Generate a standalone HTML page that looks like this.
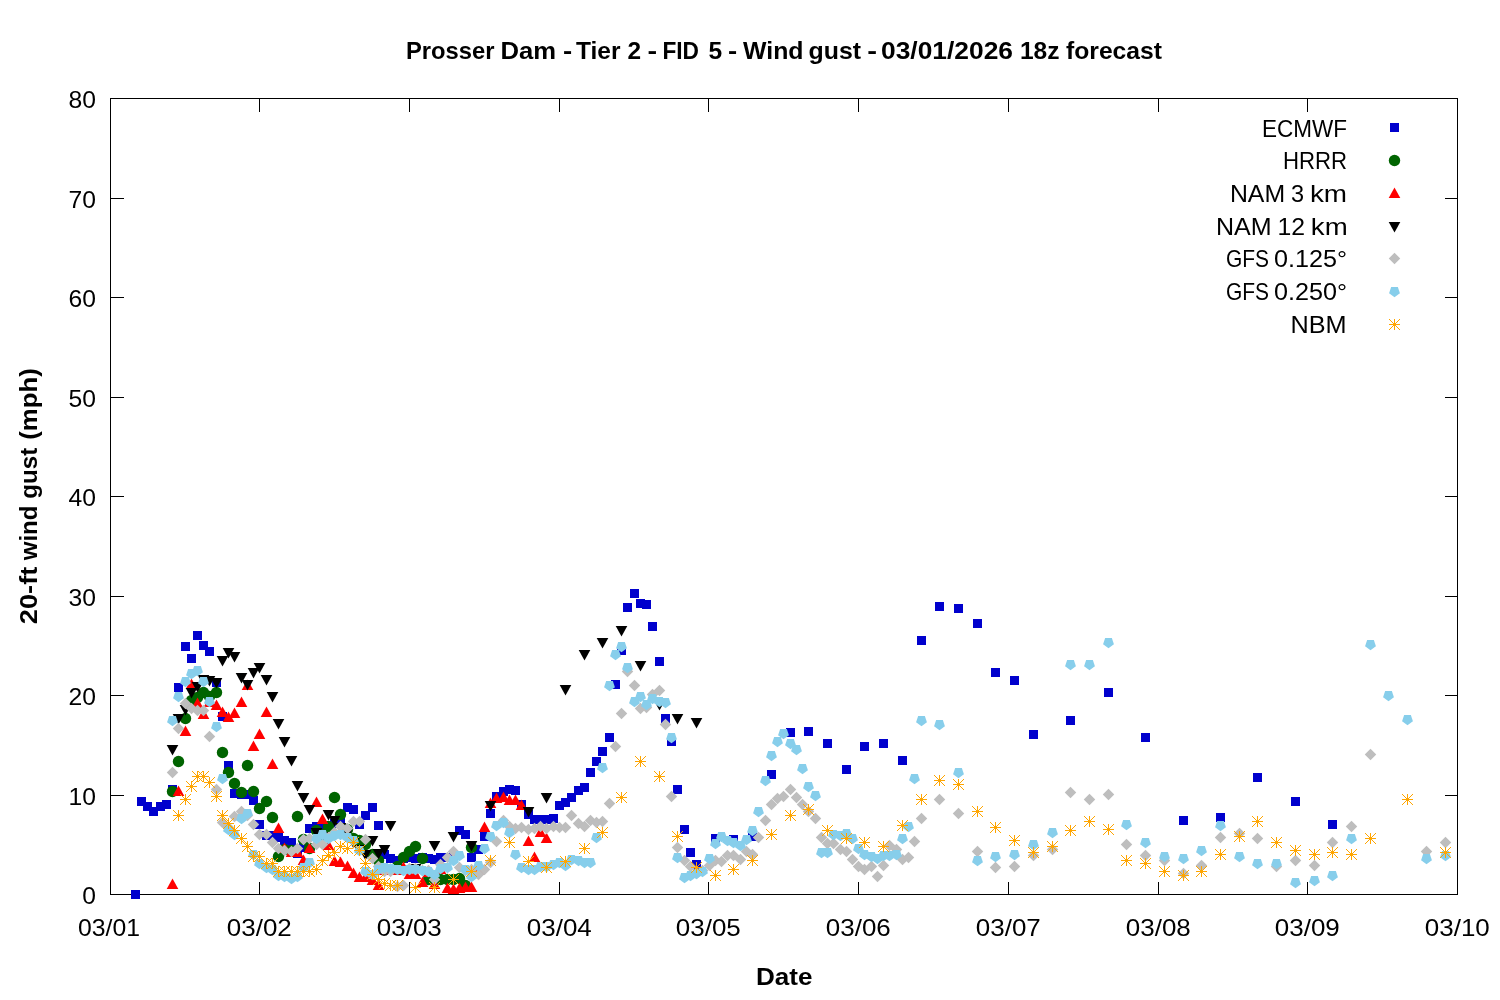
<!DOCTYPE html>
<html lang="en"><head><meta charset="utf-8"><title>Prosser Dam - Wind gust forecast</title>
<style>html,body{margin:0;padding:0;background:#fff}svg{display:block}text{font-family:"Liberation Sans",sans-serif;fill:#000}</style></head><body>
<svg width="1500" height="1000" viewBox="0 0 1500 1000">
<rect x="0" y="0" width="1500" height="1000" fill="#fff"/>
<g stroke="#000" stroke-width="1" fill="none" shape-rendering="crispEdges">
<rect x="110.5" y="98.5" width="1347.0" height="796.0"/>
<path d="M110.5 795.5h13M1457.5 795.5h-13"/>
<path d="M110.5 695.5h13M1457.5 695.5h-13"/>
<path d="M110.5 596.5h13M1457.5 596.5h-13"/>
<path d="M110.5 496.5h13M1457.5 496.5h-13"/>
<path d="M110.5 397.5h13M1457.5 397.5h-13"/>
<path d="M110.5 297.5h13M1457.5 297.5h-13"/>
<path d="M110.5 198.5h13M1457.5 198.5h-13"/>
<path d="M259.5 894.5v-13M259.5 98.5v13"/>
<path d="M409.5 894.5v-13M409.5 98.5v13"/>
<path d="M559.5 894.5v-13M559.5 98.5v13"/>
<path d="M708.5 894.5v-13M708.5 98.5v13"/>
<path d="M858.5 894.5v-13M858.5 98.5v13"/>
<path d="M1008.5 894.5v-13M1008.5 98.5v13"/>
<path d="M1158.5 894.5v-13M1158.5 98.5v13"/>
<path d="M1307.5 894.5v-13M1307.5 98.5v13"/>
</g>
<g font-size="24px">
<text x="96.1" y="903.9" text-anchor="end" textLength="13.73" lengthAdjust="spacingAndGlyphs">0</text>
<text x="96.1" y="804.9" text-anchor="end" textLength="27.46" lengthAdjust="spacingAndGlyphs">10</text>
<text x="96.1" y="704.9" text-anchor="end" textLength="27.46" lengthAdjust="spacingAndGlyphs">20</text>
<text x="96.1" y="605.9" text-anchor="end" textLength="27.46" lengthAdjust="spacingAndGlyphs">30</text>
<text x="96.1" y="505.9" text-anchor="end" textLength="27.46" lengthAdjust="spacingAndGlyphs">40</text>
<text x="96.1" y="406.9" text-anchor="end" textLength="27.46" lengthAdjust="spacingAndGlyphs">50</text>
<text x="96.1" y="306.9" text-anchor="end" textLength="27.46" lengthAdjust="spacingAndGlyphs">60</text>
<text x="96.1" y="207.9" text-anchor="end" textLength="27.46" lengthAdjust="spacingAndGlyphs">70</text>
<text x="96.1" y="107.9" text-anchor="end" textLength="27.46" lengthAdjust="spacingAndGlyphs">80</text>
<text x="78" y="936.2" textLength="62" lengthAdjust="spacingAndGlyphs">03/01</text>
<text x="259.3" y="936.2" text-anchor="middle" textLength="65" lengthAdjust="spacingAndGlyphs">03/02</text>
<text x="409.3" y="936.2" text-anchor="middle" textLength="65" lengthAdjust="spacingAndGlyphs">03/03</text>
<text x="559.3" y="936.2" text-anchor="middle" textLength="65" lengthAdjust="spacingAndGlyphs">03/04</text>
<text x="708.3" y="936.2" text-anchor="middle" textLength="65" lengthAdjust="spacingAndGlyphs">03/05</text>
<text x="858.3" y="936.2" text-anchor="middle" textLength="65" lengthAdjust="spacingAndGlyphs">03/06</text>
<text x="1008.3" y="936.2" text-anchor="middle" textLength="65" lengthAdjust="spacingAndGlyphs">03/07</text>
<text x="1158.3" y="936.2" text-anchor="middle" textLength="65" lengthAdjust="spacingAndGlyphs">03/08</text>
<text x="1307.3" y="936.2" text-anchor="middle" textLength="65" lengthAdjust="spacingAndGlyphs">03/09</text>
<text x="1457.3" y="936.2" text-anchor="middle" textLength="65" lengthAdjust="spacingAndGlyphs">03/10</text>
</g>
<text y="58.6" font-size="24px" font-weight="bold"><tspan x="406.01" textLength="88.49" lengthAdjust="spacingAndGlyphs">Prosser</tspan> <tspan x="500.47" textLength="55.58" lengthAdjust="spacingAndGlyphs">Dam</tspan> <tspan x="562.9" textLength="9.19" lengthAdjust="spacingAndGlyphs">-</tspan> <tspan x="576.01" textLength="44.49" lengthAdjust="spacingAndGlyphs">Tier</tspan> <tspan x="627.46" textLength="13.59" lengthAdjust="spacingAndGlyphs">2</tspan> <tspan x="647.42" textLength="9.63" lengthAdjust="spacingAndGlyphs">-</tspan> <tspan x="662.46" textLength="36.56" lengthAdjust="spacingAndGlyphs">FID</tspan> <tspan x="708.42" textLength="13.7" lengthAdjust="spacingAndGlyphs">5</tspan> <tspan x="727.91" textLength="9.19" lengthAdjust="spacingAndGlyphs">-</tspan> <tspan x="743" textLength="60.48" lengthAdjust="spacingAndGlyphs">Wind</tspan> <tspan x="808.5" textLength="52.52" lengthAdjust="spacingAndGlyphs">gust</tspan> <tspan x="867.29" textLength="9.8" lengthAdjust="spacingAndGlyphs">-</tspan> <tspan x="880.99" textLength="132.02" lengthAdjust="spacingAndGlyphs">03/01/2026</tspan> <tspan x="1019.94" textLength="39.58" lengthAdjust="spacingAndGlyphs">18z</tspan> <tspan x="1066" textLength="96" lengthAdjust="spacingAndGlyphs">forecast</tspan></text>
<text x="784.2" y="985" font-size="24px" font-weight="bold" text-anchor="middle" textLength="56.5" lengthAdjust="spacingAndGlyphs">Date</text>
<text transform="translate(36.8 623.2) rotate(-90)" font-size="24px" font-weight="bold"><tspan x="-0.96" textLength="57.47" lengthAdjust="spacingAndGlyphs">20-ft</tspan> <tspan x="62.99" textLength="54.51" lengthAdjust="spacingAndGlyphs">wind</tspan> <tspan x="124.51" textLength="51" lengthAdjust="spacingAndGlyphs">gust</tspan> <tspan x="183.49" textLength="71.54" lengthAdjust="spacingAndGlyphs">(mph)</tspan></text>
<g font-size="24px">
<text y="136.6"><tspan x="1261.98" textLength="85.01" lengthAdjust="spacingAndGlyphs">ECMWF</tspan></text>
<text y="169.3"><tspan x="1282.97" textLength="64.09" lengthAdjust="spacingAndGlyphs">HRRR</tspan></text>
<text y="202"><tspan x="1229.9" textLength="55.2" lengthAdjust="spacingAndGlyphs">NAM</tspan> <tspan x="1290.97" textLength="13.08" lengthAdjust="spacingAndGlyphs">3</tspan> <tspan x="1309.93" textLength="37.17" lengthAdjust="spacingAndGlyphs">km</tspan></text>
<text y="234.7"><tspan x="1215.92" textLength="55.66" lengthAdjust="spacingAndGlyphs">NAM</tspan> <tspan x="1277.43" textLength="27.6" lengthAdjust="spacingAndGlyphs">12</tspan> <tspan x="1310.86" textLength="36.83" lengthAdjust="spacingAndGlyphs">km</tspan></text>
<text y="267.4"><tspan x="1225.96" textLength="43.08" lengthAdjust="spacingAndGlyphs">GFS</tspan> <tspan x="1273.98" textLength="73.05" lengthAdjust="spacingAndGlyphs">0.125°</tspan></text>
<text y="300.1"><tspan x="1225.96" textLength="43.08" lengthAdjust="spacingAndGlyphs">GFS</tspan> <tspan x="1273.98" textLength="73.05" lengthAdjust="spacingAndGlyphs">0.250°</tspan></text>
<text y="332.8"><tspan x="1290.42" textLength="56.15" lengthAdjust="spacingAndGlyphs">NBM</tspan></text>
</g>
<g fill="#0000cd"><rect x="1390" y="123" width="9" height="9"/></g>
<g fill="#006400"><circle cx="1394.5" cy="160.5" r="5.7"/></g>
<g fill="#ff0000"><path d="M1388.7 198L1394.5 187.5L1400.3 198z"/></g>
<g fill="#000000"><path d="M1388.7 222L1394.5 232.5L1400.3 222z"/></g>
<g fill="#bebebe"><path d="M1388.75 258.5L1394.5 264.25L1400.25 258.5L1394.5 252.75z"/></g>
<g fill="#87ceeb"><path d="M1397.85 286.89L1391.15 286.89L1389.08 293.26L1394.5 297.2L1399.92 293.26z"/></g>
<g fill="none" stroke="#ffa500" stroke-width="1"><path d="M1389 324.5H1400M1394.5 319V330M1389 319L1400 330M1389 330L1400 319"/></g>
<g fill="#0000cd">
<rect x="131" y="890" width="9" height="9"/>
<rect x="137" y="797" width="9" height="9"/>
<rect x="143" y="802" width="9" height="9"/>
<rect x="149" y="807" width="9" height="9"/>
<rect x="156" y="802" width="9" height="9"/>
<rect x="162" y="800" width="9" height="9"/>
<rect x="168" y="785" width="9" height="9"/>
<rect x="174" y="683" width="9" height="9"/>
<rect x="181" y="642" width="9" height="9"/>
<rect x="187" y="654" width="9" height="9"/>
<rect x="193" y="631" width="9" height="9"/>
<rect x="199" y="641" width="9" height="9"/>
<rect x="205" y="647" width="9" height="9"/>
<rect x="212" y="678" width="9" height="9"/>
<rect x="218" y="712" width="9" height="9"/>
<rect x="224" y="761" width="9" height="9"/>
<rect x="230" y="789" width="9" height="9"/>
<rect x="237" y="790" width="9" height="9"/>
<rect x="243" y="790" width="9" height="9"/>
<rect x="249" y="796" width="9" height="9"/>
<rect x="255" y="820" width="9" height="9"/>
<rect x="262" y="831" width="9" height="9"/>
<rect x="268" y="831" width="9" height="9"/>
<rect x="274" y="833" width="9" height="9"/>
<rect x="280" y="836" width="9" height="9"/>
<rect x="287" y="838" width="9" height="9"/>
<rect x="293" y="849" width="9" height="9"/>
<rect x="299" y="843" width="9" height="9"/>
<rect x="305" y="824" width="9" height="9"/>
<rect x="312" y="822" width="9" height="9"/>
<rect x="318" y="824" width="9" height="9"/>
<rect x="324" y="822" width="9" height="9"/>
<rect x="330" y="819" width="9" height="9"/>
<rect x="336" y="816" width="9" height="9"/>
<rect x="343" y="803" width="9" height="9"/>
<rect x="349" y="805" width="9" height="9"/>
<rect x="355" y="820" width="9" height="9"/>
<rect x="361" y="811" width="9" height="9"/>
<rect x="368" y="803" width="9" height="9"/>
<rect x="374" y="821" width="9" height="9"/>
<rect x="380" y="850" width="9" height="9"/>
<rect x="386" y="854" width="9" height="9"/>
<rect x="393" y="856" width="9" height="9"/>
<rect x="399" y="854" width="9" height="9"/>
<rect x="405" y="853" width="9" height="9"/>
<rect x="411" y="854" width="9" height="9"/>
<rect x="418" y="853" width="9" height="9"/>
<rect x="424" y="854" width="9" height="9"/>
<rect x="430" y="855" width="9" height="9"/>
<rect x="436" y="853" width="9" height="9"/>
<rect x="443" y="853" width="9" height="9"/>
<rect x="449" y="853" width="9" height="9"/>
<rect x="455" y="826" width="9" height="9"/>
<rect x="461" y="830" width="9" height="9"/>
<rect x="467" y="853" width="9" height="9"/>
<rect x="474" y="845" width="9" height="9"/>
<rect x="480" y="832" width="9" height="9"/>
<rect x="486" y="809" width="9" height="9"/>
<rect x="492" y="792" width="9" height="9"/>
<rect x="499" y="787" width="9" height="9"/>
<rect x="505" y="785" width="9" height="9"/>
<rect x="511" y="786" width="9" height="9"/>
<rect x="517" y="800" width="9" height="9"/>
<rect x="524" y="810" width="9" height="9"/>
<rect x="530" y="815" width="9" height="9"/>
<rect x="536" y="815" width="9" height="9"/>
<rect x="542" y="815" width="9" height="9"/>
<rect x="549" y="814" width="9" height="9"/>
<rect x="555" y="801" width="9" height="9"/>
<rect x="561" y="798" width="9" height="9"/>
<rect x="567" y="793" width="9" height="9"/>
<rect x="574" y="786" width="9" height="9"/>
<rect x="580" y="783" width="9" height="9"/>
<rect x="586" y="768" width="9" height="9"/>
<rect x="592" y="757" width="9" height="9"/>
<rect x="598" y="747" width="9" height="9"/>
<rect x="605" y="733" width="9" height="9"/>
<rect x="611" y="680" width="9" height="9"/>
<rect x="617" y="646" width="9" height="9"/>
<rect x="623" y="603" width="9" height="9"/>
<rect x="630" y="589" width="9" height="9"/>
<rect x="636" y="599" width="9" height="9"/>
<rect x="642" y="600" width="9" height="9"/>
<rect x="648" y="622" width="9" height="9"/>
<rect x="655" y="657" width="9" height="9"/>
<rect x="661" y="714" width="9" height="9"/>
<rect x="667" y="737" width="9" height="9"/>
<rect x="673" y="785" width="9" height="9"/>
<rect x="680" y="825" width="9" height="9"/>
<rect x="686" y="848" width="9" height="9"/>
<rect x="692" y="860" width="9" height="9"/>
<rect x="711" y="834" width="9" height="9"/>
<rect x="729" y="835" width="9" height="9"/>
<rect x="748" y="832" width="9" height="9"/>
<rect x="767" y="770" width="9" height="9"/>
<rect x="786" y="728" width="9" height="9"/>
<rect x="804" y="727" width="9" height="9"/>
<rect x="823" y="739" width="9" height="9"/>
<rect x="842" y="765" width="9" height="9"/>
<rect x="860" y="742" width="9" height="9"/>
<rect x="879" y="739" width="9" height="9"/>
<rect x="898" y="756" width="9" height="9"/>
<rect x="917" y="636" width="9" height="9"/>
<rect x="935" y="602" width="9" height="9"/>
<rect x="954" y="604" width="9" height="9"/>
<rect x="973" y="619" width="9" height="9"/>
<rect x="991" y="668" width="9" height="9"/>
<rect x="1010" y="676" width="9" height="9"/>
<rect x="1029" y="730" width="9" height="9"/>
<rect x="1066" y="716" width="9" height="9"/>
<rect x="1104" y="688" width="9" height="9"/>
<rect x="1141" y="733" width="9" height="9"/>
<rect x="1179" y="816" width="9" height="9"/>
<rect x="1216" y="813" width="9" height="9"/>
<rect x="1253" y="773" width="9" height="9"/>
<rect x="1291" y="797" width="9" height="9"/>
<rect x="1328" y="820" width="9" height="9"/>
</g>
<g fill="#006400">
<circle cx="172.5" cy="791.5" r="5.7"/>
<circle cx="178.5" cy="761.5" r="5.7"/>
<circle cx="185.5" cy="718.5" r="5.7"/>
<circle cx="191.5" cy="700.5" r="5.7"/>
<circle cx="197.5" cy="697.5" r="5.7"/>
<circle cx="203.5" cy="692.5" r="5.7"/>
<circle cx="209.5" cy="696.5" r="5.7"/>
<circle cx="216.5" cy="692.5" r="5.7"/>
<circle cx="222.5" cy="752.5" r="5.7"/>
<circle cx="228.5" cy="772.5" r="5.7"/>
<circle cx="234.5" cy="783.5" r="5.7"/>
<circle cx="241.5" cy="792.5" r="5.7"/>
<circle cx="247.5" cy="765.5" r="5.7"/>
<circle cx="253.5" cy="791.5" r="5.7"/>
<circle cx="259.5" cy="808.5" r="5.7"/>
<circle cx="266.5" cy="801.5" r="5.7"/>
<circle cx="272.5" cy="817.5" r="5.7"/>
<circle cx="278.5" cy="856.5" r="5.7"/>
<circle cx="284.5" cy="849.5" r="5.7"/>
<circle cx="291.5" cy="850.5" r="5.7"/>
<circle cx="297.5" cy="816.5" r="5.7"/>
<circle cx="303.5" cy="839.5" r="5.7"/>
<circle cx="309.5" cy="848.5" r="5.7"/>
<circle cx="316.5" cy="830.5" r="5.7"/>
<circle cx="322.5" cy="834.5" r="5.7"/>
<circle cx="328.5" cy="826.5" r="5.7"/>
<circle cx="334.5" cy="797.5" r="5.7"/>
<circle cx="340.5" cy="814.5" r="5.7"/>
<circle cx="347.5" cy="829.5" r="5.7"/>
<circle cx="353.5" cy="838.5" r="5.7"/>
<circle cx="359.5" cy="840.5" r="5.7"/>
<circle cx="365.5" cy="844.5" r="5.7"/>
<circle cx="372.5" cy="854.5" r="5.7"/>
<circle cx="378.5" cy="860.5" r="5.7"/>
<circle cx="384.5" cy="869.5" r="5.7"/>
<circle cx="390.5" cy="869.5" r="5.7"/>
<circle cx="397.5" cy="866.5" r="5.7"/>
<circle cx="403.5" cy="857.5" r="5.7"/>
<circle cx="409.5" cy="851.5" r="5.7"/>
<circle cx="415.5" cy="846.5" r="5.7"/>
<circle cx="422.5" cy="858.5" r="5.7"/>
<circle cx="428.5" cy="879.5" r="5.7"/>
<circle cx="434.5" cy="879.5" r="5.7"/>
<circle cx="440.5" cy="879.5" r="5.7"/>
<circle cx="447.5" cy="879.5" r="5.7"/>
<circle cx="453.5" cy="879.5" r="5.7"/>
<circle cx="459.5" cy="878.5" r="5.7"/>
<circle cx="465.5" cy="885.5" r="5.7"/>
<circle cx="471.5" cy="847.5" r="5.7"/>
</g>
<g fill="#ff0000">
<path d="M166.7 889L172.5 878.5L178.3 889z"/>
<path d="M172.7 796L178.5 785.5L184.3 796z"/>
<path d="M179.7 736L185.5 725.5L191.3 736z"/>
<path d="M185.7 689L191.5 678.5L197.3 689z"/>
<path d="M191.7 708L197.5 697.5L203.3 708z"/>
<path d="M197.7 719L203.5 708.5L209.3 719z"/>
<path d="M203.7 707L209.5 696.5L215.3 707z"/>
<path d="M210.7 710L216.5 699.5L222.3 710z"/>
<path d="M216.7 717L222.5 706.5L228.3 717z"/>
<path d="M222.7 722L228.5 711.5L234.3 722z"/>
<path d="M228.7 718L234.5 707.5L240.3 718z"/>
<path d="M235.7 707L241.5 696.5L247.3 707z"/>
<path d="M241.7 690L247.5 679.5L253.3 690z"/>
<path d="M247.7 751L253.5 740.5L259.3 751z"/>
<path d="M253.7 739L259.5 728.5L265.3 739z"/>
<path d="M260.7 717L266.5 706.5L272.3 717z"/>
<path d="M266.7 769L272.5 758.5L278.3 769z"/>
<path d="M272.7 833L278.5 822.5L284.3 833z"/>
<path d="M278.7 853L284.5 842.5L290.3 853z"/>
<path d="M285.7 857L291.5 846.5L297.3 857z"/>
<path d="M291.7 857L297.5 846.5L303.3 857z"/>
<path d="M297.7 865L303.5 854.5L309.3 865z"/>
<path d="M303.7 853L309.5 842.5L315.3 853z"/>
<path d="M310.7 807L316.5 796.5L322.3 807z"/>
<path d="M316.7 824L322.5 813.5L328.3 824z"/>
<path d="M322.7 850L328.5 839.5L334.3 850z"/>
<path d="M328.7 866L334.5 855.5L340.3 866z"/>
<path d="M334.7 867L340.5 856.5L346.3 867z"/>
<path d="M341.7 871L347.5 860.5L353.3 871z"/>
<path d="M347.7 878L353.5 867.5L359.3 878z"/>
<path d="M353.7 882L359.5 871.5L365.3 882z"/>
<path d="M359.7 882L365.5 871.5L371.3 882z"/>
<path d="M366.7 885L372.5 874.5L378.3 885z"/>
<path d="M372.7 890L378.5 879.5L384.3 890z"/>
<path d="M378.7 875L384.5 864.5L390.3 875z"/>
<path d="M384.7 875L390.5 864.5L396.3 875z"/>
<path d="M391.7 875L397.5 864.5L403.3 875z"/>
<path d="M397.7 872L403.5 861.5L409.3 872z"/>
<path d="M403.7 879L409.5 868.5L415.3 879z"/>
<path d="M409.7 879L415.5 868.5L421.3 879z"/>
<path d="M416.7 887L422.5 876.5L428.3 887z"/>
<path d="M422.7 877L428.5 866.5L434.3 877z"/>
<path d="M428.7 889L434.5 878.5L440.3 889z"/>
<path d="M434.7 874L440.5 863.5L446.3 874z"/>
<path d="M441.7 893L447.5 882.5L453.3 893z"/>
<path d="M447.7 894L453.5 883.5L459.3 894z"/>
<path d="M453.7 893L459.5 882.5L465.3 893z"/>
<path d="M459.7 892L465.5 881.5L471.3 892z"/>
<path d="M465.7 892L471.5 881.5L477.3 892z"/>
<path d="M472.7 875L478.5 864.5L484.3 875z"/>
<path d="M478.7 832L484.5 821.5L490.3 832z"/>
<path d="M484.7 808L490.5 797.5L496.3 808z"/>
<path d="M490.7 803L496.5 792.5L502.3 803z"/>
<path d="M497.7 802L503.5 791.5L509.3 802z"/>
<path d="M503.7 805L509.5 794.5L515.3 805z"/>
<path d="M509.7 805L515.5 794.5L521.3 805z"/>
<path d="M515.7 810L521.5 799.5L527.3 810z"/>
<path d="M522.7 846L528.5 835.5L534.3 846z"/>
<path d="M528.7 862L534.5 851.5L540.3 862z"/>
<path d="M534.7 837L540.5 826.5L546.3 837z"/>
<path d="M540.7 843L546.5 832.5L552.3 843z"/>
</g>
<g fill="#000000">
<path d="M166.7 745L172.5 755.5L178.3 745z"/>
<path d="M172.7 714L178.5 724.5L184.3 714z"/>
<path d="M179.7 705L185.5 715.5L191.3 705z"/>
<path d="M185.7 688L191.5 698.5L197.3 688z"/>
<path d="M191.7 682L197.5 692.5L203.3 682z"/>
<path d="M197.7 675L203.5 685.5L209.3 675z"/>
<path d="M203.7 676L209.5 686.5L215.3 676z"/>
<path d="M210.7 678L216.5 688.5L222.3 678z"/>
<path d="M216.7 656L222.5 666.5L228.3 656z"/>
<path d="M222.7 648L228.5 658.5L234.3 648z"/>
<path d="M228.7 652L234.5 662.5L240.3 652z"/>
<path d="M235.7 673L241.5 683.5L247.3 673z"/>
<path d="M241.7 680L247.5 690.5L253.3 680z"/>
<path d="M247.7 668L253.5 678.5L259.3 668z"/>
<path d="M253.7 663L259.5 673.5L265.3 663z"/>
<path d="M260.7 675L266.5 685.5L272.3 675z"/>
<path d="M266.7 692L272.5 702.5L278.3 692z"/>
<path d="M272.7 719L278.5 729.5L284.3 719z"/>
<path d="M278.7 737L284.5 747.5L290.3 737z"/>
<path d="M285.7 756L291.5 766.5L297.3 756z"/>
<path d="M291.7 781L297.5 791.5L303.3 781z"/>
<path d="M297.7 793L303.5 803.5L309.3 793z"/>
<path d="M303.7 805L309.5 815.5L315.3 805z"/>
<path d="M310.7 828L316.5 838.5L322.3 828z"/>
<path d="M316.7 832L322.5 842.5L328.3 832z"/>
<path d="M322.7 810L328.5 820.5L334.3 810z"/>
<path d="M328.7 816L334.5 826.5L340.3 816z"/>
<path d="M334.7 823L340.5 833.5L346.3 823z"/>
<path d="M341.7 828L347.5 838.5L353.3 828z"/>
<path d="M347.7 838L353.5 848.5L359.3 838z"/>
<path d="M353.7 845L359.5 855.5L365.3 845z"/>
<path d="M359.7 850L365.5 860.5L371.3 850z"/>
<path d="M366.7 836L372.5 846.5L378.3 836z"/>
<path d="M372.7 849L378.5 859.5L384.3 849z"/>
<path d="M378.7 845L384.5 855.5L390.3 845z"/>
<path d="M384.7 821L390.5 831.5L396.3 821z"/>
<path d="M409.7 864L415.5 874.5L421.3 864z"/>
<path d="M428.7 841L434.5 851.5L440.3 841z"/>
<path d="M447.7 832L453.5 842.5L459.3 832z"/>
<path d="M465.7 841L471.5 851.5L477.3 841z"/>
<path d="M484.7 801L490.5 811.5L496.3 801z"/>
<path d="M522.7 807L528.5 817.5L534.3 807z"/>
<path d="M540.7 793L546.5 803.5L552.3 793z"/>
<path d="M559.7 685L565.5 695.5L571.3 685z"/>
<path d="M578.7 650L584.5 660.5L590.3 650z"/>
<path d="M596.7 638L602.5 648.5L608.3 638z"/>
<path d="M615.7 626L621.5 636.5L627.3 626z"/>
<path d="M634.7 661L640.5 671.5L646.3 661z"/>
<path d="M653.7 700L659.5 710.5L665.3 700z"/>
<path d="M671.7 714L677.5 724.5L683.3 714z"/>
<path d="M690.7 718L696.5 728.5L702.3 718z"/>
</g>
<g fill="#bebebe">
<path d="M166.75 772.5L172.5 778.25L178.25 772.5L172.5 766.75z"/>
<path d="M172.75 728.5L178.5 734.25L184.25 728.5L178.5 722.75z"/>
<path d="M179.75 703.5L185.5 709.25L191.25 703.5L185.5 697.75z"/>
<path d="M185.75 708.5L191.5 714.25L197.25 708.5L191.5 702.75z"/>
<path d="M191.75 710.5L197.5 716.25L203.25 710.5L197.5 704.75z"/>
<path d="M197.75 710.5L203.5 716.25L209.25 710.5L203.5 704.75z"/>
<path d="M203.75 736.5L209.5 742.25L215.25 736.5L209.5 730.75z"/>
<path d="M210.75 789.5L216.5 795.25L222.25 789.5L216.5 783.75z"/>
<path d="M216.75 822.5L222.5 828.25L228.25 822.5L222.5 816.75z"/>
<path d="M222.75 827.5L228.5 833.25L234.25 827.5L228.5 821.75z"/>
<path d="M228.75 816.5L234.5 822.25L240.25 816.5L234.5 810.75z"/>
<path d="M235.75 811.5L241.5 817.25L247.25 811.5L241.5 805.75z"/>
<path d="M241.75 815.5L247.5 821.25L253.25 815.5L247.5 809.75z"/>
<path d="M247.75 824.5L253.5 830.25L259.25 824.5L253.5 818.75z"/>
<path d="M253.75 834.5L259.5 840.25L265.25 834.5L259.5 828.75z"/>
<path d="M260.75 834.5L266.5 840.25L272.25 834.5L266.5 828.75z"/>
<path d="M266.75 842.5L272.5 848.25L278.25 842.5L272.5 836.75z"/>
<path d="M272.75 848.5L278.5 854.25L284.25 848.5L278.5 842.75z"/>
<path d="M278.75 850.5L284.5 856.25L290.25 850.5L284.5 844.75z"/>
<path d="M285.75 851.5L291.5 857.25L297.25 851.5L291.5 845.75z"/>
<path d="M291.75 848.5L297.5 854.25L303.25 848.5L297.5 842.75z"/>
<path d="M297.75 839.5L303.5 845.25L309.25 839.5L303.5 833.75z"/>
<path d="M303.75 838.5L309.5 844.25L315.25 838.5L309.5 832.75z"/>
<path d="M310.75 844.5L316.5 850.25L322.25 844.5L316.5 838.75z"/>
<path d="M316.75 844.5L322.5 850.25L328.25 844.5L322.5 838.75z"/>
<path d="M322.75 837.5L328.5 843.25L334.25 837.5L328.5 831.75z"/>
<path d="M328.75 832.5L334.5 838.25L340.25 832.5L334.5 826.75z"/>
<path d="M334.75 826.5L340.5 832.25L346.25 826.5L340.5 820.75z"/>
<path d="M341.75 828.5L347.5 834.25L353.25 828.5L347.5 822.75z"/>
<path d="M347.75 821.5L353.5 827.25L359.25 821.5L353.5 815.75z"/>
<path d="M353.75 821.5L359.5 827.25L365.25 821.5L359.5 815.75z"/>
<path d="M359.75 839.5L365.5 845.25L371.25 839.5L365.5 833.75z"/>
<path d="M366.75 858.5L372.5 864.25L378.25 858.5L372.5 852.75z"/>
<path d="M372.75 866.5L378.5 872.25L384.25 866.5L378.5 860.75z"/>
<path d="M378.75 871.5L384.5 877.25L390.25 871.5L384.5 865.75z"/>
<path d="M384.75 871.5L390.5 877.25L396.25 871.5L390.5 865.75z"/>
<path d="M391.75 886.5L397.5 892.25L403.25 886.5L397.5 880.75z"/>
<path d="M397.75 885.5L403.5 891.25L409.25 885.5L403.5 879.75z"/>
<path d="M403.75 868.5L409.5 874.25L415.25 868.5L409.5 862.75z"/>
<path d="M409.75 868.5L415.5 874.25L421.25 868.5L415.5 862.75z"/>
<path d="M416.75 870.5L422.5 876.25L428.25 870.5L422.5 864.75z"/>
<path d="M422.75 870.5L428.5 876.25L434.25 870.5L428.5 864.75z"/>
<path d="M428.75 879.5L434.5 885.25L440.25 879.5L434.5 873.75z"/>
<path d="M434.75 864.5L440.5 870.25L446.25 864.5L440.5 858.75z"/>
<path d="M441.75 857.5L447.5 863.25L453.25 857.5L447.5 851.75z"/>
<path d="M447.75 851.5L453.5 857.25L459.25 851.5L453.5 845.75z"/>
<path d="M453.75 867.5L459.5 873.25L465.25 867.5L459.5 861.75z"/>
<path d="M459.75 870.5L465.5 876.25L471.25 870.5L465.5 864.75z"/>
<path d="M465.75 869.5L471.5 875.25L477.25 869.5L471.5 863.75z"/>
<path d="M472.75 874.5L478.5 880.25L484.25 874.5L478.5 868.75z"/>
<path d="M478.75 869.5L484.5 875.25L490.25 869.5L484.5 863.75z"/>
<path d="M484.75 862.5L490.5 868.25L496.25 862.5L490.5 856.75z"/>
<path d="M490.75 841.5L496.5 847.25L502.25 841.5L496.5 835.75z"/>
<path d="M497.75 820.5L503.5 826.25L509.25 820.5L503.5 814.75z"/>
<path d="M503.75 826.5L509.5 832.25L515.25 826.5L509.5 820.75z"/>
<path d="M509.75 828.5L515.5 834.25L521.25 828.5L515.5 822.75z"/>
<path d="M515.75 827.5L521.5 833.25L527.25 827.5L521.5 821.75z"/>
<path d="M522.75 829.5L528.5 835.25L534.25 829.5L528.5 823.75z"/>
<path d="M528.75 828.5L534.5 834.25L540.25 828.5L534.5 822.75z"/>
<path d="M534.75 826.5L540.5 832.25L546.25 826.5L540.5 820.75z"/>
<path d="M540.75 828.5L546.5 834.25L552.25 828.5L546.5 822.75z"/>
<path d="M547.75 826.5L553.5 832.25L559.25 826.5L553.5 820.75z"/>
<path d="M553.75 827.5L559.5 833.25L565.25 827.5L559.5 821.75z"/>
<path d="M559.75 827.5L565.5 833.25L571.25 827.5L565.5 821.75z"/>
<path d="M565.75 815.5L571.5 821.25L577.25 815.5L571.5 809.75z"/>
<path d="M572.75 823.5L578.5 829.25L584.25 823.5L578.5 817.75z"/>
<path d="M578.75 826.5L584.5 832.25L590.25 826.5L584.5 820.75z"/>
<path d="M584.75 820.5L590.5 826.25L596.25 820.5L590.5 814.75z"/>
<path d="M590.75 822.5L596.5 828.25L602.25 822.5L596.5 816.75z"/>
<path d="M596.75 821.5L602.5 827.25L608.25 821.5L602.5 815.75z"/>
<path d="M603.75 803.5L609.5 809.25L615.25 803.5L609.5 797.75z"/>
<path d="M609.75 746.5L615.5 752.25L621.25 746.5L615.5 740.75z"/>
<path d="M615.75 713.5L621.5 719.25L627.25 713.5L621.5 707.75z"/>
<path d="M621.75 671.5L627.5 677.25L633.25 671.5L627.5 665.75z"/>
<path d="M628.75 685.5L634.5 691.25L640.25 685.5L634.5 679.75z"/>
<path d="M634.75 708.5L640.5 714.25L646.25 708.5L640.5 702.75z"/>
<path d="M640.75 707.5L646.5 713.25L652.25 707.5L646.5 701.75z"/>
<path d="M646.75 694.5L652.5 700.25L658.25 694.5L652.5 688.75z"/>
<path d="M653.75 690.5L659.5 696.25L665.25 690.5L659.5 684.75z"/>
<path d="M659.75 724.5L665.5 730.25L671.25 724.5L665.5 718.75z"/>
<path d="M665.75 796.5L671.5 802.25L677.25 796.5L671.5 790.75z"/>
<path d="M671.75 847.5L677.5 853.25L683.25 847.5L677.5 841.75z"/>
<path d="M678.75 860.5L684.5 866.25L690.25 860.5L684.5 854.75z"/>
<path d="M684.75 866.5L690.5 872.25L696.25 866.5L690.5 860.75z"/>
<path d="M690.75 873.5L696.5 879.25L702.25 873.5L696.5 867.75z"/>
<path d="M696.75 870.5L702.5 876.25L708.25 870.5L702.5 864.75z"/>
<path d="M703.75 865.5L709.5 871.25L715.25 865.5L709.5 859.75z"/>
<path d="M709.75 860.5L715.5 866.25L721.25 860.5L715.5 854.75z"/>
<path d="M715.75 861.5L721.5 867.25L727.25 861.5L721.5 855.75z"/>
<path d="M721.75 855.5L727.5 861.25L733.25 855.5L727.5 849.75z"/>
<path d="M727.75 855.5L733.5 861.25L739.25 855.5L733.5 849.75z"/>
<path d="M734.75 859.5L740.5 865.25L746.25 859.5L740.5 853.75z"/>
<path d="M740.75 851.5L746.5 857.25L752.25 851.5L746.5 845.75z"/>
<path d="M746.75 854.5L752.5 860.25L758.25 854.5L752.5 848.75z"/>
<path d="M752.75 837.5L758.5 843.25L764.25 837.5L758.5 831.75z"/>
<path d="M759.75 820.5L765.5 826.25L771.25 820.5L765.5 814.75z"/>
<path d="M765.75 804.5L771.5 810.25L777.25 804.5L771.5 798.75z"/>
<path d="M771.75 798.5L777.5 804.25L783.25 798.5L777.5 792.75z"/>
<path d="M777.75 796.5L783.5 802.25L789.25 796.5L783.5 790.75z"/>
<path d="M784.75 789.5L790.5 795.25L796.25 789.5L790.5 783.75z"/>
<path d="M790.75 797.5L796.5 803.25L802.25 797.5L796.5 791.75z"/>
<path d="M796.75 804.5L802.5 810.25L808.25 804.5L802.5 798.75z"/>
<path d="M802.75 811.5L808.5 817.25L814.25 811.5L808.5 805.75z"/>
<path d="M809.75 818.5L815.5 824.25L821.25 818.5L815.5 812.75z"/>
<path d="M815.75 837.5L821.5 843.25L827.25 837.5L821.5 831.75z"/>
<path d="M821.75 843.5L827.5 849.25L833.25 843.5L827.5 837.75z"/>
<path d="M827.75 843.5L833.5 849.25L839.25 843.5L833.5 837.75z"/>
<path d="M834.75 849.5L840.5 855.25L846.25 849.5L840.5 843.75z"/>
<path d="M840.75 851.5L846.5 857.25L852.25 851.5L846.5 845.75z"/>
<path d="M846.75 859.5L852.5 865.25L858.25 859.5L852.5 853.75z"/>
<path d="M852.75 866.5L858.5 872.25L864.25 866.5L858.5 860.75z"/>
<path d="M858.75 869.5L864.5 875.25L870.25 869.5L864.5 863.75z"/>
<path d="M865.75 866.5L871.5 872.25L877.25 866.5L871.5 860.75z"/>
<path d="M871.75 876.5L877.5 882.25L883.25 876.5L877.5 870.75z"/>
<path d="M877.75 865.5L883.5 871.25L889.25 865.5L883.5 859.75z"/>
<path d="M883.75 845.5L889.5 851.25L895.25 845.5L889.5 839.75z"/>
<path d="M890.75 849.5L896.5 855.25L902.25 849.5L896.5 843.75z"/>
<path d="M896.75 859.5L902.5 865.25L908.25 859.5L902.5 853.75z"/>
<path d="M902.75 857.5L908.5 863.25L914.25 857.5L908.5 851.75z"/>
<path d="M908.75 841.5L914.5 847.25L920.25 841.5L914.5 835.75z"/>
<path d="M915.75 818.5L921.5 824.25L927.25 818.5L921.5 812.75z"/>
<path d="M933.75 799.5L939.5 805.25L945.25 799.5L939.5 793.75z"/>
<path d="M952.75 813.5L958.5 819.25L964.25 813.5L958.5 807.75z"/>
<path d="M971.75 851.5L977.5 857.25L983.25 851.5L977.5 845.75z"/>
<path d="M989.75 867.5L995.5 873.25L1001.25 867.5L995.5 861.75z"/>
<path d="M1008.75 866.5L1014.5 872.25L1020.25 866.5L1014.5 860.75z"/>
<path d="M1027.75 855.5L1033.5 861.25L1039.25 855.5L1033.5 849.75z"/>
<path d="M1046.75 849.5L1052.5 855.25L1058.25 849.5L1052.5 843.75z"/>
<path d="M1064.75 792.5L1070.5 798.25L1076.25 792.5L1070.5 786.75z"/>
<path d="M1083.75 799.5L1089.5 805.25L1095.25 799.5L1089.5 793.75z"/>
<path d="M1102.75 794.5L1108.5 800.25L1114.25 794.5L1108.5 788.75z"/>
<path d="M1120.75 844.5L1126.5 850.25L1132.25 844.5L1126.5 838.75z"/>
<path d="M1139.75 855.5L1145.5 861.25L1151.25 855.5L1145.5 849.75z"/>
<path d="M1158.75 860.5L1164.5 866.25L1170.25 860.5L1164.5 854.75z"/>
<path d="M1177.75 873.5L1183.5 879.25L1189.25 873.5L1183.5 867.75z"/>
<path d="M1195.75 865.5L1201.5 871.25L1207.25 865.5L1201.5 859.75z"/>
<path d="M1214.75 837.5L1220.5 843.25L1226.25 837.5L1220.5 831.75z"/>
<path d="M1233.75 833.5L1239.5 839.25L1245.25 833.5L1239.5 827.75z"/>
<path d="M1251.75 838.5L1257.5 844.25L1263.25 838.5L1257.5 832.75z"/>
<path d="M1270.75 866.5L1276.5 872.25L1282.25 866.5L1276.5 860.75z"/>
<path d="M1289.75 860.5L1295.5 866.25L1301.25 860.5L1295.5 854.75z"/>
<path d="M1308.75 865.5L1314.5 871.25L1320.25 865.5L1314.5 859.75z"/>
<path d="M1326.75 842.5L1332.5 848.25L1338.25 842.5L1332.5 836.75z"/>
<path d="M1345.75 826.5L1351.5 832.25L1357.25 826.5L1351.5 820.75z"/>
<path d="M1364.75 754.5L1370.5 760.25L1376.25 754.5L1370.5 748.75z"/>
<path d="M1420.75 851.5L1426.5 857.25L1432.25 851.5L1426.5 845.75z"/>
<path d="M1439.75 842.5L1445.5 848.25L1451.25 842.5L1445.5 836.75z"/>
</g>
<g fill="#87ceeb">
<path d="M175.85 715.89L169.15 715.89L167.08 722.26L172.5 726.2L177.92 722.26z"/>
<path d="M181.85 691.89L175.15 691.89L173.08 698.26L178.5 702.2L183.92 698.26z"/>
<path d="M188.85 676.89L182.15 676.89L180.08 683.26L185.5 687.2L190.92 683.26z"/>
<path d="M194.85 668.89L188.15 668.89L186.08 675.26L191.5 679.2L196.92 675.26z"/>
<path d="M200.85 665.89L194.15 665.89L192.08 672.26L197.5 676.2L202.92 672.26z"/>
<path d="M206.85 676.89L200.15 676.89L198.08 683.26L203.5 687.2L208.92 683.26z"/>
<path d="M212.85 696.89L206.15 696.89L204.08 703.26L209.5 707.2L214.92 703.26z"/>
<path d="M219.85 721.89L213.15 721.89L211.08 728.26L216.5 732.2L221.92 728.26z"/>
<path d="M225.85 773.89L219.15 773.89L217.08 780.26L222.5 784.2L227.92 780.26z"/>
<path d="M231.85 824.89L225.15 824.89L223.08 831.26L228.5 835.2L233.92 831.26z"/>
<path d="M237.85 829.89L231.15 829.89L229.08 836.26L234.5 840.2L239.92 836.26z"/>
<path d="M244.85 813.89L238.15 813.89L236.08 820.26L241.5 824.2L246.92 820.26z"/>
<path d="M250.85 808.89L244.15 808.89L242.08 815.26L247.5 819.2L252.92 815.26z"/>
<path d="M256.85 849.89L250.15 849.89L248.08 856.26L253.5 860.2L258.92 856.26z"/>
<path d="M262.85 858.89L256.15 858.89L254.08 865.26L259.5 869.2L264.92 865.26z"/>
<path d="M269.85 862.89L263.15 862.89L261.08 869.26L266.5 873.2L271.92 869.26z"/>
<path d="M275.85 864.89L269.15 864.89L267.08 871.26L272.5 875.2L277.92 871.26z"/>
<path d="M281.85 870.89L275.15 870.89L273.08 877.26L278.5 881.2L283.92 877.26z"/>
<path d="M287.85 871.89L281.15 871.89L279.08 878.26L284.5 882.2L289.92 878.26z"/>
<path d="M294.85 873.89L288.15 873.89L286.08 880.26L291.5 884.2L296.92 880.26z"/>
<path d="M300.85 871.89L294.15 871.89L292.08 878.26L297.5 882.2L302.92 878.26z"/>
<path d="M306.85 862.89L300.15 862.89L298.08 869.26L303.5 873.2L308.92 869.26z"/>
<path d="M312.85 857.89L306.15 857.89L304.08 864.26L309.5 868.2L314.92 864.26z"/>
<path d="M319.85 833.89L313.15 833.89L311.08 840.26L316.5 844.2L321.92 840.26z"/>
<path d="M325.85 829.89L319.15 829.89L317.08 836.26L322.5 840.2L327.92 836.26z"/>
<path d="M331.85 833.89L325.15 833.89L323.08 840.26L328.5 844.2L333.92 840.26z"/>
<path d="M337.85 830.89L331.15 830.89L329.08 837.26L334.5 841.2L339.92 837.26z"/>
<path d="M343.85 829.89L337.15 829.89L335.08 836.26L340.5 840.2L345.92 836.26z"/>
<path d="M350.85 832.89L344.15 832.89L342.08 839.26L347.5 843.2L352.92 839.26z"/>
<path d="M356.85 835.89L350.15 835.89L348.08 842.26L353.5 846.2L358.92 842.26z"/>
<path d="M362.85 845.89L356.15 845.89L354.08 852.26L359.5 856.2L364.92 852.26z"/>
<path d="M368.85 866.89L362.15 866.89L360.08 873.26L365.5 877.2L370.92 873.26z"/>
<path d="M375.85 869.89L369.15 869.89L367.08 876.26L372.5 880.2L377.92 876.26z"/>
<path d="M381.85 864.89L375.15 864.89L373.08 871.26L378.5 875.2L383.92 871.26z"/>
<path d="M387.85 862.89L381.15 862.89L379.08 869.26L384.5 873.2L389.92 869.26z"/>
<path d="M393.85 863.89L387.15 863.89L385.08 870.26L390.5 874.2L395.92 870.26z"/>
<path d="M400.85 864.89L394.15 864.89L392.08 871.26L397.5 875.2L402.92 871.26z"/>
<path d="M406.85 865.89L400.15 865.89L398.08 872.26L403.5 876.2L408.92 872.26z"/>
<path d="M412.85 864.89L406.15 864.89L404.08 871.26L409.5 875.2L414.92 871.26z"/>
<path d="M418.85 864.89L412.15 864.89L410.08 871.26L415.5 875.2L420.92 871.26z"/>
<path d="M425.85 865.89L419.15 865.89L417.08 872.26L422.5 876.2L427.92 872.26z"/>
<path d="M431.85 866.89L425.15 866.89L423.08 873.26L428.5 877.2L433.92 873.26z"/>
<path d="M437.85 869.89L431.15 869.89L429.08 876.26L434.5 880.2L439.92 876.26z"/>
<path d="M443.85 863.89L437.15 863.89L435.08 870.26L440.5 874.2L445.92 870.26z"/>
<path d="M450.85 862.89L444.15 862.89L442.08 869.26L447.5 873.2L452.92 869.26z"/>
<path d="M456.85 855.89L450.15 855.89L448.08 862.26L453.5 866.2L458.92 862.26z"/>
<path d="M462.85 850.89L456.15 850.89L454.08 857.26L459.5 861.2L464.92 857.26z"/>
<path d="M468.85 864.89L462.15 864.89L460.08 871.26L465.5 875.2L470.92 871.26z"/>
<path d="M474.85 871.89L468.15 871.89L466.08 878.26L471.5 882.2L476.92 878.26z"/>
<path d="M481.85 860.89L475.15 860.89L473.08 867.26L478.5 871.2L483.92 867.26z"/>
<path d="M487.85 843.89L481.15 843.89L479.08 850.26L484.5 854.2L489.92 850.26z"/>
<path d="M493.85 831.89L487.15 831.89L485.08 838.26L490.5 842.2L495.92 838.26z"/>
<path d="M499.85 820.89L493.15 820.89L491.08 827.26L496.5 831.2L501.92 827.26z"/>
<path d="M506.85 817.89L500.15 817.89L498.08 824.26L503.5 828.2L508.92 824.26z"/>
<path d="M512.85 827.89L506.15 827.89L504.08 834.26L509.5 838.2L514.92 834.26z"/>
<path d="M518.85 849.89L512.15 849.89L510.08 856.26L515.5 860.2L520.92 856.26z"/>
<path d="M524.85 862.89L518.15 862.89L516.08 869.26L521.5 873.2L526.92 869.26z"/>
<path d="M531.85 864.89L525.15 864.89L523.08 871.26L528.5 875.2L533.92 871.26z"/>
<path d="M537.85 864.89L531.15 864.89L529.08 871.26L534.5 875.2L539.92 871.26z"/>
<path d="M543.85 861.89L537.15 861.89L535.08 868.26L540.5 872.2L545.92 868.26z"/>
<path d="M549.85 861.89L543.15 861.89L541.08 868.26L546.5 872.2L551.92 868.26z"/>
<path d="M556.85 859.89L550.15 859.89L548.08 866.26L553.5 870.2L558.92 866.26z"/>
<path d="M562.85 857.89L556.15 857.89L554.08 864.26L559.5 868.2L564.92 864.26z"/>
<path d="M568.85 860.89L562.15 860.89L560.08 867.26L565.5 871.2L570.92 867.26z"/>
<path d="M574.85 854.89L568.15 854.89L566.08 861.26L571.5 865.2L576.92 861.26z"/>
<path d="M581.85 855.89L575.15 855.89L573.08 862.26L578.5 866.2L583.92 862.26z"/>
<path d="M587.85 857.89L581.15 857.89L579.08 864.26L584.5 868.2L589.92 864.26z"/>
<path d="M593.85 857.89L587.15 857.89L585.08 864.26L590.5 868.2L595.92 864.26z"/>
<path d="M599.85 832.89L593.15 832.89L591.08 839.26L596.5 843.2L601.92 839.26z"/>
<path d="M605.85 762.89L599.15 762.89L597.08 769.26L602.5 773.2L607.92 769.26z"/>
<path d="M612.85 680.89L606.15 680.89L604.08 687.26L609.5 691.2L614.92 687.26z"/>
<path d="M618.85 649.89L612.15 649.89L610.08 656.26L615.5 660.2L620.92 656.26z"/>
<path d="M624.85 641.89L618.15 641.89L616.08 648.26L621.5 652.2L626.92 648.26z"/>
<path d="M630.85 662.89L624.15 662.89L622.08 669.26L627.5 673.2L632.92 669.26z"/>
<path d="M637.85 696.89L631.15 696.89L629.08 703.26L634.5 707.2L639.92 703.26z"/>
<path d="M643.85 691.89L637.15 691.89L635.08 698.26L640.5 702.2L645.92 698.26z"/>
<path d="M649.85 699.89L643.15 699.89L641.08 706.26L646.5 710.2L651.92 706.26z"/>
<path d="M655.85 693.89L649.15 693.89L647.08 700.26L652.5 704.2L657.92 700.26z"/>
<path d="M662.85 696.89L656.15 696.89L654.08 703.26L659.5 707.2L664.92 703.26z"/>
<path d="M668.85 697.89L662.15 697.89L660.08 704.26L665.5 708.2L670.92 704.26z"/>
<path d="M674.85 732.89L668.15 732.89L666.08 739.26L671.5 743.2L676.92 739.26z"/>
<path d="M680.85 852.89L674.15 852.89L672.08 859.26L677.5 863.2L682.92 859.26z"/>
<path d="M687.85 872.89L681.15 872.89L679.08 879.26L684.5 883.2L689.92 879.26z"/>
<path d="M693.85 870.89L687.15 870.89L685.08 877.26L690.5 881.2L695.92 877.26z"/>
<path d="M699.85 868.89L693.15 868.89L691.08 875.26L696.5 879.2L701.92 875.26z"/>
<path d="M705.85 866.89L699.15 866.89L697.08 873.26L702.5 877.2L707.92 873.26z"/>
<path d="M712.85 853.89L706.15 853.89L704.08 860.26L709.5 864.2L714.92 860.26z"/>
<path d="M718.85 838.89L712.15 838.89L710.08 845.26L715.5 849.2L720.92 845.26z"/>
<path d="M724.85 831.89L718.15 831.89L716.08 838.26L721.5 842.2L726.92 838.26z"/>
<path d="M730.85 835.89L724.15 835.89L722.08 842.26L727.5 846.2L732.92 842.26z"/>
<path d="M736.85 837.89L730.15 837.89L728.08 844.26L733.5 848.2L738.92 844.26z"/>
<path d="M743.85 840.89L737.15 840.89L735.08 847.26L740.5 851.2L745.92 847.26z"/>
<path d="M749.85 834.89L743.15 834.89L741.08 841.26L746.5 845.2L751.92 841.26z"/>
<path d="M755.85 825.89L749.15 825.89L747.08 832.26L752.5 836.2L757.92 832.26z"/>
<path d="M761.85 806.89L755.15 806.89L753.08 813.26L758.5 817.2L763.92 813.26z"/>
<path d="M768.85 775.89L762.15 775.89L760.08 782.26L765.5 786.2L770.92 782.26z"/>
<path d="M774.85 750.89L768.15 750.89L766.08 757.26L771.5 761.2L776.92 757.26z"/>
<path d="M780.85 736.89L774.15 736.89L772.08 743.26L777.5 747.2L782.92 743.26z"/>
<path d="M786.85 728.89L780.15 728.89L778.08 735.26L783.5 739.2L788.92 735.26z"/>
<path d="M793.85 738.89L787.15 738.89L785.08 745.26L790.5 749.2L795.92 745.26z"/>
<path d="M799.85 744.89L793.15 744.89L791.08 751.26L796.5 755.2L801.92 751.26z"/>
<path d="M805.85 763.89L799.15 763.89L797.08 770.26L802.5 774.2L807.92 770.26z"/>
<path d="M811.85 781.89L805.15 781.89L803.08 788.26L808.5 792.2L813.92 788.26z"/>
<path d="M818.85 790.89L812.15 790.89L810.08 797.26L815.5 801.2L820.92 797.26z"/>
<path d="M824.85 847.89L818.15 847.89L816.08 854.26L821.5 858.2L826.92 854.26z"/>
<path d="M830.85 847.89L824.15 847.89L822.08 854.26L827.5 858.2L832.92 854.26z"/>
<path d="M836.85 829.89L830.15 829.89L828.08 836.26L833.5 840.2L838.92 836.26z"/>
<path d="M843.85 830.89L837.15 830.89L835.08 837.26L840.5 841.2L845.92 837.26z"/>
<path d="M849.85 828.89L843.15 828.89L841.08 835.26L846.5 839.2L851.92 835.26z"/>
<path d="M855.85 833.89L849.15 833.89L847.08 840.26L852.5 844.2L857.92 840.26z"/>
<path d="M861.85 843.89L855.15 843.89L853.08 850.26L858.5 854.2L863.92 850.26z"/>
<path d="M867.85 849.89L861.15 849.89L859.08 856.26L864.5 860.2L869.92 856.26z"/>
<path d="M874.85 851.89L868.15 851.89L866.08 858.26L871.5 862.2L876.92 858.26z"/>
<path d="M880.85 853.89L874.15 853.89L872.08 860.26L877.5 864.2L882.92 860.26z"/>
<path d="M886.85 850.89L880.15 850.89L878.08 857.26L883.5 861.2L888.92 857.26z"/>
<path d="M892.85 850.89L886.15 850.89L884.08 857.26L889.5 861.2L894.92 857.26z"/>
<path d="M899.85 849.89L893.15 849.89L891.08 856.26L896.5 860.2L901.92 856.26z"/>
<path d="M905.85 833.89L899.15 833.89L897.08 840.26L902.5 844.2L907.92 840.26z"/>
<path d="M911.85 821.89L905.15 821.89L903.08 828.26L908.5 832.2L913.92 828.26z"/>
<path d="M917.85 773.89L911.15 773.89L909.08 780.26L914.5 784.2L919.92 780.26z"/>
<path d="M924.85 715.89L918.15 715.89L916.08 722.26L921.5 726.2L926.92 722.26z"/>
<path d="M942.85 719.89L936.15 719.89L934.08 726.26L939.5 730.2L944.92 726.26z"/>
<path d="M961.85 767.89L955.15 767.89L953.08 774.26L958.5 778.2L963.92 774.26z"/>
<path d="M980.85 855.89L974.15 855.89L972.08 862.26L977.5 866.2L982.92 862.26z"/>
<path d="M998.85 851.89L992.15 851.89L990.08 858.26L995.5 862.2L1000.92 858.26z"/>
<path d="M1017.85 849.89L1011.15 849.89L1009.08 856.26L1014.5 860.2L1019.92 856.26z"/>
<path d="M1036.85 839.89L1030.15 839.89L1028.08 846.26L1033.5 850.2L1038.92 846.26z"/>
<path d="M1055.85 827.89L1049.15 827.89L1047.08 834.26L1052.5 838.2L1057.92 834.26z"/>
<path d="M1073.85 659.89L1067.15 659.89L1065.08 666.26L1070.5 670.2L1075.92 666.26z"/>
<path d="M1092.85 659.89L1086.15 659.89L1084.08 666.26L1089.5 670.2L1094.92 666.26z"/>
<path d="M1111.85 637.89L1105.15 637.89L1103.08 644.26L1108.5 648.2L1113.92 644.26z"/>
<path d="M1129.85 819.89L1123.15 819.89L1121.08 826.26L1126.5 830.2L1131.92 826.26z"/>
<path d="M1148.85 837.89L1142.15 837.89L1140.08 844.26L1145.5 848.2L1150.92 844.26z"/>
<path d="M1167.85 851.89L1161.15 851.89L1159.08 858.26L1164.5 862.2L1169.92 858.26z"/>
<path d="M1186.85 853.89L1180.15 853.89L1178.08 860.26L1183.5 864.2L1188.92 860.26z"/>
<path d="M1204.85 845.89L1198.15 845.89L1196.08 852.26L1201.5 856.2L1206.92 852.26z"/>
<path d="M1223.85 820.89L1217.15 820.89L1215.08 827.26L1220.5 831.2L1225.92 827.26z"/>
<path d="M1242.85 851.89L1236.15 851.89L1234.08 858.26L1239.5 862.2L1244.92 858.26z"/>
<path d="M1260.85 858.89L1254.15 858.89L1252.08 865.26L1257.5 869.2L1262.92 865.26z"/>
<path d="M1279.85 858.89L1273.15 858.89L1271.08 865.26L1276.5 869.2L1281.92 865.26z"/>
<path d="M1298.85 877.89L1292.15 877.89L1290.08 884.26L1295.5 888.2L1300.92 884.26z"/>
<path d="M1317.85 875.89L1311.15 875.89L1309.08 882.26L1314.5 886.2L1319.92 882.26z"/>
<path d="M1335.85 870.89L1329.15 870.89L1327.08 877.26L1332.5 881.2L1337.92 877.26z"/>
<path d="M1354.85 833.89L1348.15 833.89L1346.08 840.26L1351.5 844.2L1356.92 840.26z"/>
<path d="M1373.85 639.89L1367.15 639.89L1365.08 646.26L1370.5 650.2L1375.92 646.26z"/>
<path d="M1391.85 690.89L1385.15 690.89L1383.08 697.26L1388.5 701.2L1393.92 697.26z"/>
<path d="M1410.85 714.89L1404.15 714.89L1402.08 721.26L1407.5 725.2L1412.92 721.26z"/>
<path d="M1429.85 853.89L1423.15 853.89L1421.08 860.26L1426.5 864.2L1431.92 860.26z"/>
<path d="M1448.85 850.89L1442.15 850.89L1440.08 857.26L1445.5 861.2L1450.92 857.26z"/>
</g>
<g fill="none" stroke="#ffa500" stroke-width="1">
<path d="M173 815.5H184M178.5 810V821M173 810L184 821M173 821L184 810"/>
<path d="M180 799.5H191M185.5 794V805M180 794L191 805M180 805L191 794"/>
<path d="M186 786.5H197M191.5 781V792M186 781L197 792M186 792L197 781"/>
<path d="M192 776.5H203M197.5 771V782M192 771L203 782M192 782L203 771"/>
<path d="M198 776.5H209M203.5 771V782M198 771L209 782M198 782L209 771"/>
<path d="M204 782.5H215M209.5 777V788M204 777L215 788M204 788L215 777"/>
<path d="M211 796.5H222M216.5 791V802M211 791L222 802M211 802L222 791"/>
<path d="M217 815.5H228M222.5 810V821M217 810L228 821M217 821L228 810"/>
<path d="M223 823.5H234M228.5 818V829M223 818L234 829M223 829L234 818"/>
<path d="M229 830.5H240M234.5 825V836M229 825L240 836M229 836L240 825"/>
<path d="M236 838.5H247M241.5 833V844M236 833L247 844M236 844L247 833"/>
<path d="M242 846.5H253M247.5 841V852M242 841L253 852M242 852L253 841"/>
<path d="M248 856.5H259M253.5 851V862M248 851L259 862M248 862L259 851"/>
<path d="M254 856.5H265M259.5 851V862M254 851L265 862M254 862L265 851"/>
<path d="M261 863.5H272M266.5 858V869M261 858L272 869M261 869L272 858"/>
<path d="M267 863.5H278M272.5 858V869M267 858L278 869M267 869L278 858"/>
<path d="M273 871.5H284M278.5 866V877M273 866L284 877M273 877L284 866"/>
<path d="M279 871.5H290M284.5 866V877M279 866L290 877M279 877L290 866"/>
<path d="M286 871.5H297M291.5 866V877M286 866L297 877M286 877L297 866"/>
<path d="M292 871.5H303M297.5 866V877M292 866L303 877M292 877L303 866"/>
<path d="M298 871.5H309M303.5 866V877M298 866L309 877M298 877L309 866"/>
<path d="M304 871.5H315M309.5 866V877M304 866L315 877M304 877L315 866"/>
<path d="M311 869.5H322M316.5 864V875M311 864L322 875M311 875L322 864"/>
<path d="M317 860.5H328M322.5 855V866M317 855L328 866M317 866L328 855"/>
<path d="M323 855.5H334M328.5 850V861M323 850L334 861M323 861L334 850"/>
<path d="M329 852.5H340M334.5 847V858M329 847L340 858M329 858L340 847"/>
<path d="M335 846.5H346M340.5 841V852M335 841L346 852M335 852L346 841"/>
<path d="M342 848.5H353M347.5 843V854M342 843L353 854M342 854L353 843"/>
<path d="M348 842.5H359M353.5 837V848M348 837L359 848M348 848L359 837"/>
<path d="M354 850.5H365M359.5 845V856M354 845L365 856M354 856L365 845"/>
<path d="M360 863.5H371M365.5 858V869M360 858L371 869M360 869L371 858"/>
<path d="M367 874.5H378M372.5 869V880M367 869L378 880M367 880L378 869"/>
<path d="M373 879.5H384M378.5 874V885M373 874L384 885M373 885L384 874"/>
<path d="M379 883.5H390M384.5 878V889M379 878L390 889M379 889L390 878"/>
<path d="M385 885.5H396M390.5 880V891M385 880L396 891M385 891L396 880"/>
<path d="M392 885.5H403M397.5 880V891M392 880L403 891M392 891L403 880"/>
<path d="M410 887.5H421M415.5 882V893M410 882L421 893M410 893L421 882"/>
<path d="M429 887.5H440M434.5 882V893M429 882L440 893M429 893L440 882"/>
<path d="M448 879.5H459M453.5 874V885M448 874L459 885M448 885L459 874"/>
<path d="M466 871.5H477M471.5 866V877M466 866L477 877M466 877L477 866"/>
<path d="M485 860.5H496M490.5 855V866M485 855L496 866M485 866L496 855"/>
<path d="M504 842.5H515M509.5 837V848M504 837L515 848M504 848L515 837"/>
<path d="M523 861.5H534M528.5 856V867M523 856L534 867M523 867L534 856"/>
<path d="M541 867.5H552M546.5 862V873M541 862L552 873M541 873L552 862"/>
<path d="M560 861.5H571M565.5 856V867M560 856L571 867M560 867L571 856"/>
<path d="M579 848.5H590M584.5 843V854M579 843L590 854M579 854L590 843"/>
<path d="M597 832.5H608M602.5 827V838M597 827L608 838M597 838L608 827"/>
<path d="M616 797.5H627M621.5 792V803M616 792L627 803M616 803L627 792"/>
<path d="M635 761.5H646M640.5 756V767M635 756L646 767M635 767L646 756"/>
<path d="M654 776.5H665M659.5 771V782M654 771L665 782M654 782L665 771"/>
<path d="M672 836.5H683M677.5 831V842M672 831L683 842M672 842L683 831"/>
<path d="M691 867.5H702M696.5 862V873M691 862L702 873M691 873L702 862"/>
<path d="M710 875.5H721M715.5 870V881M710 870L721 881M710 881L721 870"/>
<path d="M728 869.5H739M733.5 864V875M728 864L739 875M728 875L739 864"/>
<path d="M747 860.5H758M752.5 855V866M747 855L758 866M747 866L758 855"/>
<path d="M766 834.5H777M771.5 829V840M766 829L777 840M766 840L777 829"/>
<path d="M785 815.5H796M790.5 810V821M785 810L796 821M785 821L796 810"/>
<path d="M803 809.5H814M808.5 804V815M803 804L814 815M803 815L814 804"/>
<path d="M822 830.5H833M827.5 825V836M822 825L833 836M822 836L833 825"/>
<path d="M841 838.5H852M846.5 833V844M841 833L852 844M841 844L852 833"/>
<path d="M859 842.5H870M864.5 837V848M859 837L870 848M859 848L870 837"/>
<path d="M878 846.5H889M883.5 841V852M878 841L889 852M878 852L889 841"/>
<path d="M897 825.5H908M902.5 820V831M897 820L908 831M897 831L908 820"/>
<path d="M916 799.5H927M921.5 794V805M916 794L927 805M916 805L927 794"/>
<path d="M934 780.5H945M939.5 775V786M934 775L945 786M934 786L945 775"/>
<path d="M953 784.5H964M958.5 779V790M953 779L964 790M953 790L964 779"/>
<path d="M972 811.5H983M977.5 806V817M972 806L983 817M972 817L983 806"/>
<path d="M990 827.5H1001M995.5 822V833M990 822L1001 833M990 833L1001 822"/>
<path d="M1009 840.5H1020M1014.5 835V846M1009 835L1020 846M1009 846L1020 835"/>
<path d="M1028 852.5H1039M1033.5 847V858M1028 847L1039 858M1028 858L1039 847"/>
<path d="M1047 846.5H1058M1052.5 841V852M1047 841L1058 852M1047 852L1058 841"/>
<path d="M1065 830.5H1076M1070.5 825V836M1065 825L1076 836M1065 836L1076 825"/>
<path d="M1084 821.5H1095M1089.5 816V827M1084 816L1095 827M1084 827L1095 816"/>
<path d="M1103 829.5H1114M1108.5 824V835M1103 824L1114 835M1103 835L1114 824"/>
<path d="M1121 860.5H1132M1126.5 855V866M1121 855L1132 866M1121 866L1132 855"/>
<path d="M1140 863.5H1151M1145.5 858V869M1140 858L1151 869M1140 869L1151 858"/>
<path d="M1159 871.5H1170M1164.5 866V877M1159 866L1170 877M1159 877L1170 866"/>
<path d="M1178 875.5H1189M1183.5 870V881M1178 870L1189 881M1178 881L1189 870"/>
<path d="M1196 871.5H1207M1201.5 866V877M1196 866L1207 877M1196 877L1207 866"/>
<path d="M1215 854.5H1226M1220.5 849V860M1215 849L1226 860M1215 860L1226 849"/>
<path d="M1234 836.5H1245M1239.5 831V842M1234 831L1245 842M1234 842L1245 831"/>
<path d="M1252 821.5H1263M1257.5 816V827M1252 816L1263 827M1252 827L1263 816"/>
<path d="M1271 842.5H1282M1276.5 837V848M1271 837L1282 848M1271 848L1282 837"/>
<path d="M1290 850.5H1301M1295.5 845V856M1290 845L1301 856M1290 856L1301 845"/>
<path d="M1309 854.5H1320M1314.5 849V860M1309 849L1320 860M1309 860L1320 849"/>
<path d="M1327 852.5H1338M1332.5 847V858M1327 847L1338 858M1327 858L1338 847"/>
<path d="M1346 854.5H1357M1351.5 849V860M1346 849L1357 860M1346 860L1357 849"/>
<path d="M1365 838.5H1376M1370.5 833V844M1365 833L1376 844M1365 844L1376 833"/>
<path d="M1402 799.5H1413M1407.5 794V805M1402 794L1413 805M1402 805L1413 794"/>
<path d="M1440 852.5H1451M1445.5 847V858M1440 847L1451 858M1440 858L1451 847"/>
</g>
</svg></body></html>
